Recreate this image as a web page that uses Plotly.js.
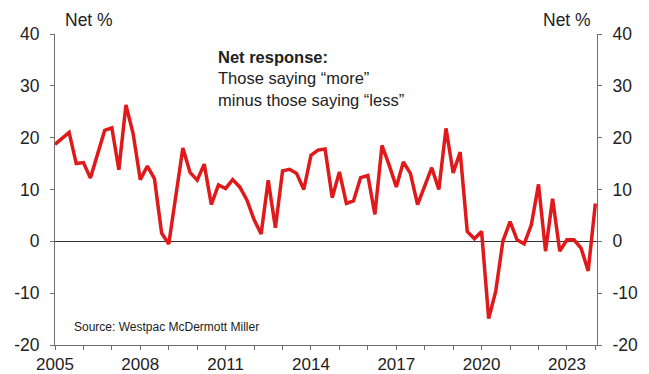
<!DOCTYPE html>
<html>
<head>
<meta charset="utf-8">
<script src="https://cdn.plot.ly/plotly-3.0.1.min.js"></script>
<style>html,body{margin:0;padding:0;background:#fff;}#chart{width:649px;height:374px;}</style>
</head>
<body>
<div id="chart"></div>
<script>
// Quarterly periods (start of quarter)
const quarters = [
  "2005-01-01","2005-04-01","2005-07-01","2005-10-01",
  "2006-01-01","2006-04-01","2006-07-01","2006-10-01",
  "2007-01-01","2007-04-01","2007-07-01","2007-10-01",
  "2008-01-01","2008-04-01","2008-07-01","2008-10-01",
  "2009-01-01","2009-04-01","2009-07-01","2009-10-01",
  "2010-01-01","2010-04-01","2010-07-01","2010-10-01",
  "2011-01-01","2011-04-01","2011-07-01","2011-10-01",
  "2012-01-01","2012-04-01","2012-07-01","2012-10-01",
  "2013-01-01","2013-04-01","2013-07-01","2013-10-01",
  "2014-01-01","2014-04-01","2014-07-01","2014-10-01",
  "2015-01-01","2015-04-01","2015-07-01","2015-10-01",
  "2016-01-01","2016-04-01","2016-07-01","2016-10-01",
  "2017-01-01","2017-04-01","2017-07-01","2017-10-01",
  "2018-01-01","2018-04-01","2018-07-01","2018-10-01",
  "2019-01-01","2019-04-01","2019-07-01","2019-10-01",
  "2020-01-01","2020-04-01","2020-07-01","2020-10-01",
  "2021-01-01","2021-04-01","2021-07-01","2021-10-01",
  "2022-01-01","2022-04-01","2022-07-01","2022-10-01",
  "2023-01-01","2023-04-01","2023-07-01","2023-10-01",
  "2024-01-01"
];
// Net response (%): "more" minus "less"
const netResponse = [
  18.7, 19.9, 21.0, 15.0,
  15.2, 12.2, 16.8, 21.4,
  21.9, 13.8, 26.3, 20.8,
  11.9, 14.5, 12.1, 1.6,
  -0.5, 8.5, 18.0, 13.3,
  11.8, 14.9, 7.1, 10.9,
  10.2, 11.9, 10.5, 8.0,
  4.2, 1.4, 11.8, 2.6,
  13.6, 13.9, 13.1, 10.0,
  16.6, 17.6, 17.8, 8.4,
  13.4, 7.3, 7.8, 12.3,
  12.7, 5.2, 18.5, 14.7,
  10.5, 15.3, 13.1, 7.1,
  10.6, 14.2, 10.0, 21.8,
  13.2, 17.2, 1.9, 0.5,
  1.9, -14.9, -9.6, 0.1,
  3.8, 0.3, -0.5, 3.2,
  11.0, -1.9, 8.2, -1.9,
  0.3, 0.3, -1.3, -5.7,
  7.3
];
const xTickVals = ["2005-01-01","2006-01-01","2007-01-01","2008-01-01","2009-01-01","2010-01-01","2011-01-01","2012-01-01","2013-01-01","2014-01-01","2015-01-01","2016-01-01","2017-01-01","2018-01-01","2019-01-01","2020-01-01","2021-01-01","2022-01-01","2023-01-01","2024-01-01"];
const xTickText = ["2005","","","2008","","","2011","","","2014","","","2017","","","2020","","","2023",""];
const yTickVals = [-20, -10, 0, 10, 20, 30, 40];
const yTickText = ["-20", "-10", "0", "10", "20", "30", "40"];

const FONT = "Liberation Sans, Arial, sans-serif";
const TXT = "#222222";
const AX = "#6e6e6e";
const FS = 17.5;

const data = [
  {
    x: quarters, y: netResponse, type: "scatter", mode: "lines",
    line: {color: "#e0191b", width: 3.5},
    hoverinfo: "x+y", showlegend: false
  },
  // invisible companion trace so the right-hand axis is drawn
  {
    x: quarters, y: netResponse, type: "scatter", mode: "lines",
    yaxis: "y2", opacity: 0, line: {width: 0},
    hoverinfo: "skip", showlegend: false
  }
];

const yCommon = {
  range: [-20, 40], tickvals: yTickVals, ticktext: yTickText,
  ticks: "outside", ticklen: 4, tickcolor: AX, tickwidth: 1,
  ticklabelstandoff: 7,
  showline: true, linecolor: AX, linewidth: 1, showgrid: false,
  tickfont: {family: FONT, size: FS, color: TXT}
};

const layout = {
  width: 649, height: 374,
  margin: {l: 55, r: 52, t: 34, b: 29},
  paper_bgcolor: "#ffffff", plot_bgcolor: "#ffffff",
  showlegend: false,
  font: {family: FONT, color: TXT},
  xaxis: {
    type: "date", range: ["2005-01-01", "2024-01-22"],
    tickvals: xTickVals, ticktext: xTickText,
    ticks: "outside", ticklen: 4, tickcolor: AX, tickwidth: 1,
    ticklabelstandoff: 0,
    showline: true, linecolor: AX, linewidth: 1, showgrid: false, zeroline: false,
    tickfont: {family: FONT, size: 17, color: TXT}
  },
  yaxis: Object.assign({}, yCommon, {
    side: "left", zeroline: true, zerolinecolor: "#333333", zerolinewidth: 1
  }),
  yaxis2: Object.assign({}, yCommon, {
    side: "right", overlaying: "y", anchor: "x", zeroline: false
  }),
  annotations: [
    {text: "Net %", xref: "paper", yref: "paper", x: 0.015, y: 1.045,
     xanchor: "left", yanchor: "middle", showarrow: false,
     font: {family: FONT, size: FS, color: TXT}},
    {text: "Net %", xref: "paper", yref: "paper", x: 0.992, y: 1.045,
     xanchor: "right", yanchor: "middle", showarrow: false,
     font: {family: FONT, size: FS, color: TXT}},
    {text: "<b>Net response:</b><br>Those saying “more”<br>minus those saying “less”",
     xref: "paper", yref: "paper", x: 0.297, y: 0.858, align: "left",
     xanchor: "left", yanchor: "middle", showarrow: false,
     font: {family: FONT, size: 16.5, color: TXT}},
    {text: "Source: Westpac McDermott Miller", xref: "paper", yref: "paper",
     x: 0.031, y: 0.057, xanchor: "left", yanchor: "middle", showarrow: false,
     font: {family: FONT, size: 12, color: TXT}}
  ]
};

Plotly.newPlot("chart", data, layout, {displayModeBar: false, staticPlot: true});
</script>
</body>
</html>
